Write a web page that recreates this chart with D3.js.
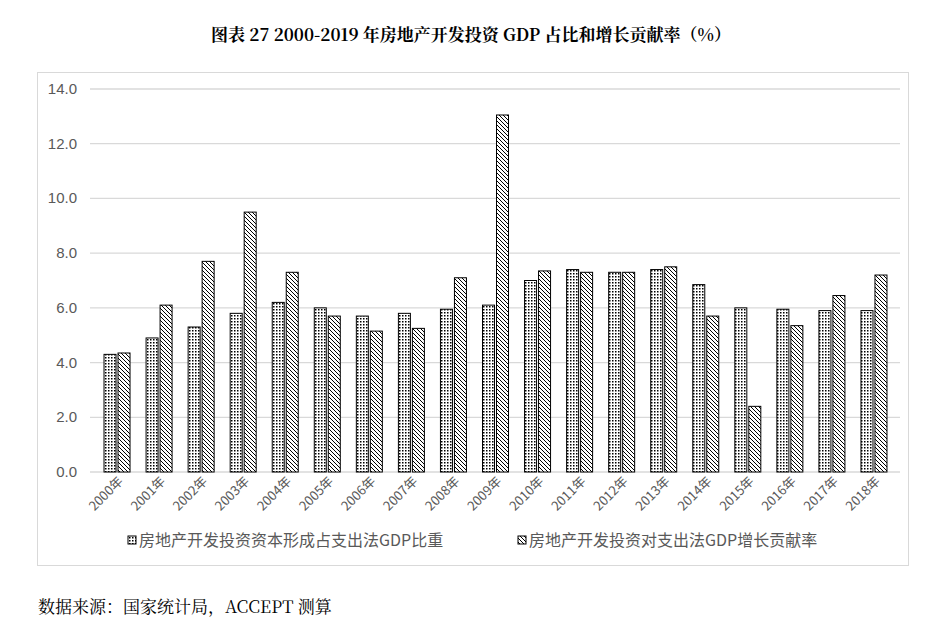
<!DOCTYPE html><html><head><meta charset="utf-8"><script src="https://cdn.jsdelivr.net/npm/d3@7"></script>
<style>body{margin:0;background:#fff}</style></head><body><svg id="c" width="942" height="633"></svg>
<script>
const years=["2000年","2001年","2002年","2003年","2004年","2005年","2006年","2007年","2008年","2009年","2010年","2011年","2012年","2013年","2014年","2015年","2016年","2017年","2018年"];
const share=[4.3,4.9,5.3,5.8,6.2,6.0,5.7,5.8,5.95,6.1,7.0,7.4,7.3,7.4,6.85,6.0,5.95,5.9,5.9];
const contrib=[4.35,6.1,7.7,9.5,7.3,5.7,5.15,5.25,7.1,13.05,7.35,7.3,7.3,7.5,5.7,2.4,5.35,6.45,7.2];
const seriesNames=["房地产开发投资资本形成占支出法GDP比重","房地产开发投资对支出法GDP增长贡献率"];
const ticks=[0,2,4,6,8,10,12,14];
const svg=d3.select("#c");
const defs=svg.append("defs");
const p1=defs.append("pattern").attr("id","dots").attr("width",3).attr("height",3).attr("patternUnits","userSpaceOnUse");
p1.append("rect").attr("width",3).attr("height",3).attr("fill","#fff");
p1.append("rect").attr("width",1.5).attr("height",1.5).attr("fill","#000");
const p2=defs.append("pattern").attr("id","hatch").attr("width",4).attr("height",4).attr("patternUnits","userSpaceOnUse");
p2.append("rect").attr("width",4).attr("height",4).attr("fill","#fff");
p2.append("path").attr("d","M-1,-1L5,5M3,-1L5,1M-1,3L1,5").attr("stroke","#000").attr("stroke-width",1);
svg.append("rect").attr("x",37.5).attr("y",72.5).attr("width",871).attr("height",493).attr("fill","none").attr("stroke","#d9d9d9");
svg.append("text").attr("x",471).attr("y",41).attr("text-anchor","middle").attr("font-family","'Noto Serif CJK SC','Noto Sans CJK SC',serif").attr("font-weight","bold").attr("font-size",17).text("图表 27 2000-2019 年房地产开发投资 GDP 占比和增长贡献率（%）");
svg.append("text").attr("x",38).attr("y",613).attr("font-family","'Noto Serif CJK SC','Noto Sans CJK SC',serif").attr("font-size",17).text("数据来源：国家统计局，ACCEPT 测算");
const y=d3.scaleLinear().domain([0,14]).range([472,89]);
const x=d3.scaleBand().domain(years).range([96,895]);
svg.append("g").selectAll("line").data(ticks).join("line").attr("x1",90).attr("x2",900).attr("y1",d=>y(d)).attr("y2",d=>y(d)).attr("stroke","#d9d9d9").attr("stroke-width",1.3);
svg.append("g").selectAll("text").data(ticks).join("text").attr("x",77).attr("y",d=>y(d)+5).attr("text-anchor","end").attr("font-family","Liberation Sans, Arial").attr("font-size",15).attr("fill","#595959").text(d=>d.toFixed(1));
const bw=12;
[share,contrib].forEach((s,i)=>{
 svg.append("g").selectAll("rect").data(s).join("rect")
 .attr("x",(d,j)=>x(years[j])+x.bandwidth()/2-bw-1+i*(bw+2)).attr("y",d=>y(d)).attr("width",bw).attr("height",d=>y(0)-y(d))
 .attr("fill",i?"url(#hatch)":"url(#dots)").attr("stroke","#000").attr("stroke-width",1);
});
svg.append("g").selectAll("text").data(years).join("text")
 .attr("transform",d=>`translate(${x(d)+x.bandwidth()/2+7},${482}) rotate(-45)`).attr("text-anchor","end")
 .attr("font-family","'Noto Sans CJK SC',sans-serif").attr("font-size",13).attr("fill","#595959").text(d=>d);
const lg=[[128,"url(#dots)"],[518,"url(#hatch)"]];
lg.forEach((l,i)=>{
 svg.append("rect").attr("x",l[0]).attr("y",536).attr("width",8).attr("height",8).attr("fill",l[1]).attr("stroke","#000");
 svg.append("text").attr("x",l[0]+11).attr("y",546).attr("font-family","'Noto Sans CJK SC',sans-serif").attr("font-size",16).attr("fill","#595959").text(seriesNames[i]);
});
</script></body></html>
